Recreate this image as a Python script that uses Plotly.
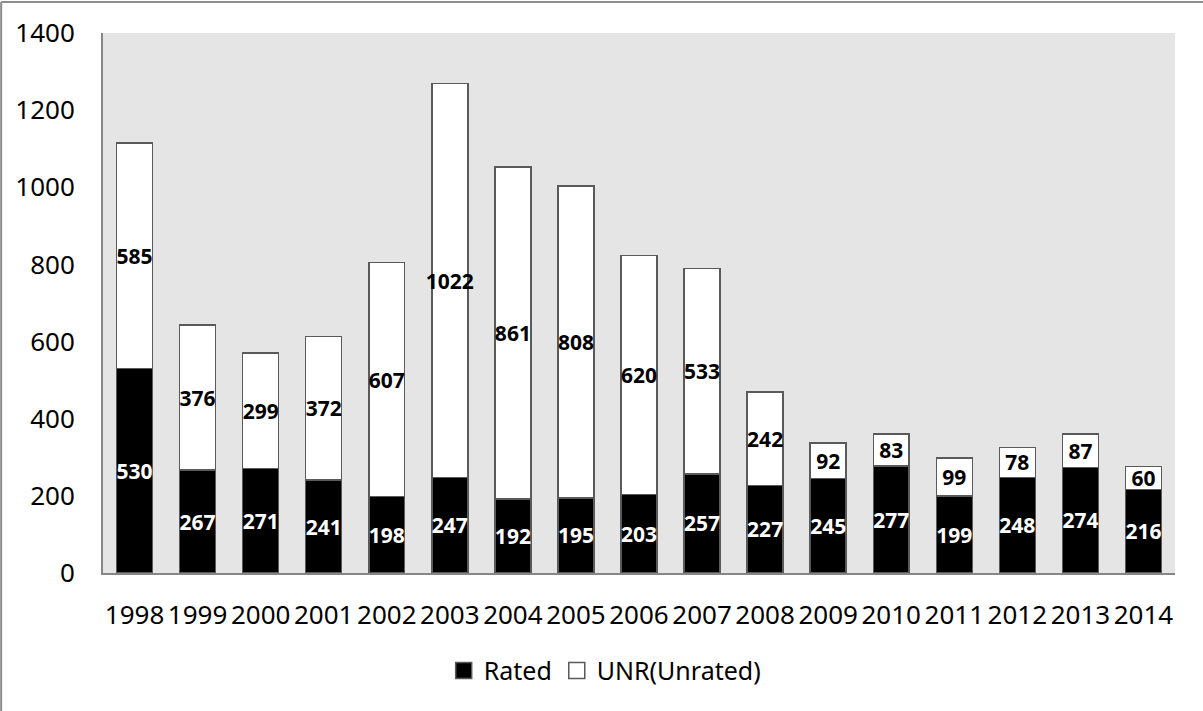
import plotly.graph_objects as go

years = ["1998", "1999", "2000", "2001", "2002", "2003", "2004", "2005", "2006",
         "2007", "2008", "2009", "2010", "2011", "2012", "2013", "2014"]
rated = [530, 267, 271, 241, 198, 247, 192, 195, 203, 257, 227, 245, 277, 199, 248, 274, 216]
unrated = [585, 376, 299, 372, 607, 1022, 861, 808, 620, 533, 242, 92, 83, 99, 78, 87, 60]

FONT = "Noto Sans"
OUTLINE = "#5a5a5a"
series = [("Rated", rated, "#000000", "white"),
          ("UNR(Unrated)", unrated, "#ffffff", "black")]

fig = go.Figure()
for name, values, fill, txt in series:
    fig.add_trace(go.Bar(
        x=years, y=values, name=name, showlegend=False,
        marker=dict(color=fill, line=dict(color=OUTLINE, width=1.5)),
        text=[str(v) for v in values], textposition="inside", insidetextanchor="middle",
        constraintext="none", textangle=0,
        textfont=dict(family=FONT, size=21, color=txt, weight="bold"),
    ))
# legend entries with larger square swatches
for name, values, fill, txt in series:
    fig.add_trace(go.Scatter(
        x=[None], y=[None], name=name, mode="markers",
        marker=dict(symbol="square", size=16, color=fill, line=dict(color=OUTLINE, width=1.5)),
    ))

fig.update_layout(
    width=1203, height=711,
    barmode="stack", bargap=0.43,
    paper_bgcolor="white", plot_bgcolor="#e5e5e5",
    margin=dict(l=103, r=28, t=33, b=138),
    font=dict(family=FONT, size=26, color="black"),
    showlegend=True,
    legend=dict(orientation="h", x=0.468, xanchor="center", y=-0.181, yanchor="middle",
                font=dict(family=FONT, size=25, color="black"), traceorder="normal",
                itemsizing="trace", itemwidth=30, bgcolor="rgba(0,0,0,0)"),
    shapes=[
        dict(type="line", xref="paper", yref="paper", x0=-0.095, x1=1.03, y0=1.0574, y1=1.0574,
             line=dict(color="#8c8c8c", width=2)),
        dict(type="line", xref="paper", yref="paper", x0=-0.095, x1=-0.095, y0=1.0574, y1=-0.3,
             line=dict(color="#8c8c8c", width=2)),
    ],
)
fig.update_yaxes(range=[0, 1400], dtick=200, showgrid=False, zeroline=False,
                 showline=True, linecolor="#868686", linewidth=2, ticks="",
                 ticklabelstandoff=21, tickfont=dict(size=26, color="black"))
fig.update_xaxes(showgrid=False, showline=True, linecolor="#868686", linewidth=2,
                 ticks="", ticklabelstandoff=18, tickfont=dict(size=26, color="black"))

fig.write_html("out.html")
